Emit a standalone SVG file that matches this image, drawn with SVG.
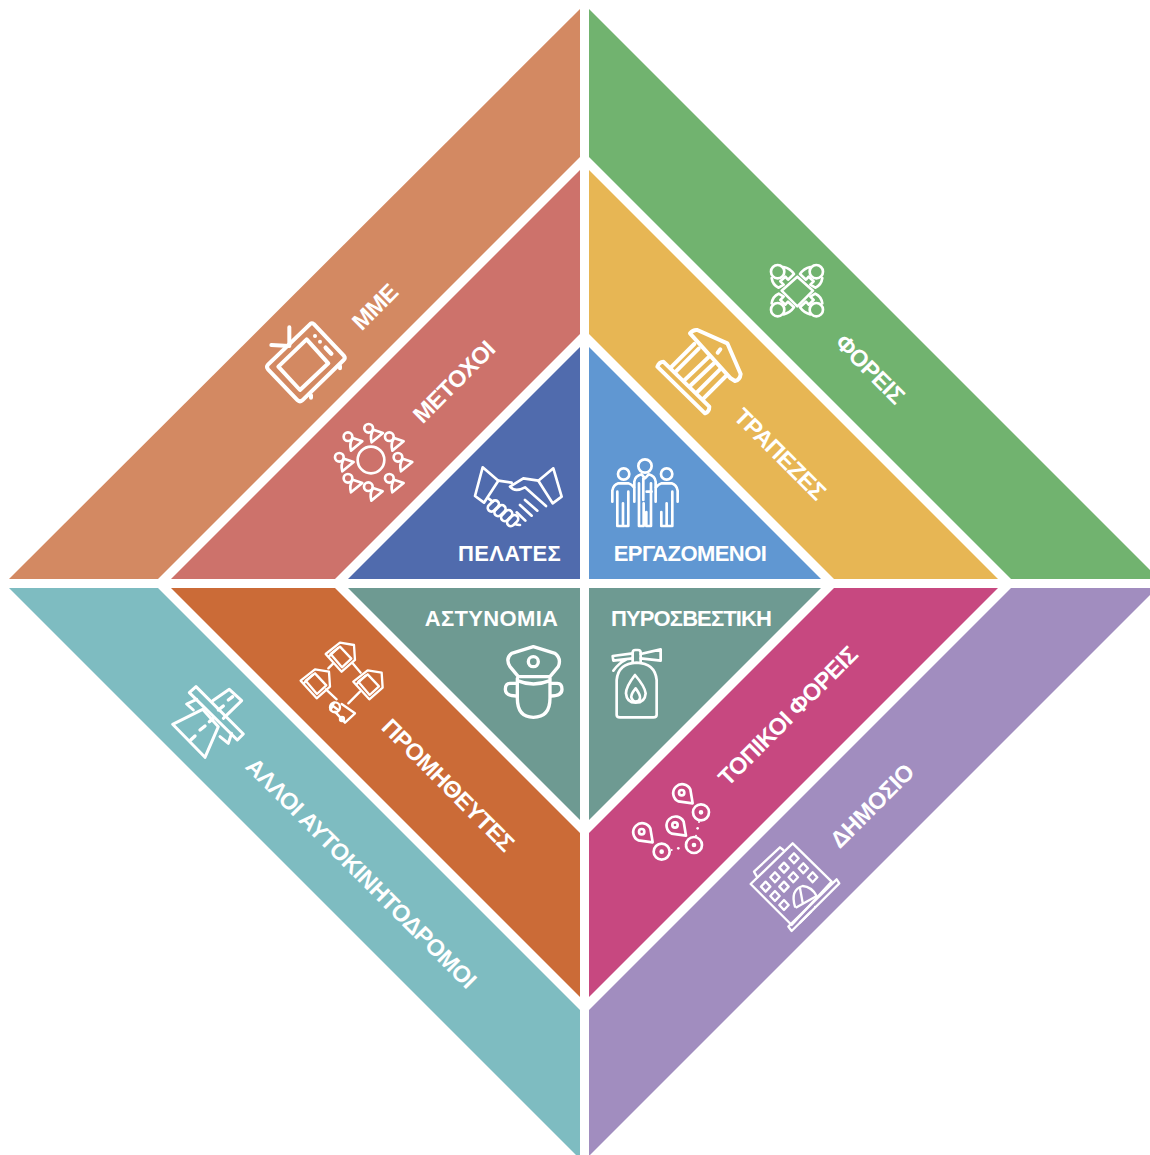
<svg xmlns="http://www.w3.org/2000/svg" width="1150" height="1155" viewBox="0 0 1150 1155">
<style>
text{font-family:"Liberation Sans",Arial,sans-serif;font-size:22px;font-weight:700;fill:#fff;text-anchor:middle;letter-spacing:-.55px}
text.r{font-size:23.500px;letter-spacing:-.5px}
.i{fill:none;stroke:#fff;stroke-linejoin:round;stroke-linecap:round}
.f{fill:#fff;stroke:none}
</style>
<defs>
<g id="person"><circle cx="0" cy="0" r="13"/><path d="M14 4L43 14L9 42Q3 22 14 4Z"/></g>
<g id="seat"><circle cx="-58" cy="-57" r="20"/><path d="M-40-71Q-21-67-9-50L-27-33L-35-42L-50-28L-40-18L-55-9Q-73-17-76-38"/></g>
<g id="house"><path d="M497 72L540 38L582 45L585 90L545 125Z"/><path d="M512 72L540 50L574 86L546 112Z"/><path d="M506 80L534 54"/></g>
<g id="pin"><path d="M33 32L-10 26A27 27 0 1 1 26-10Z"/><circle r="8"/></g>
<g id="ring"><circle r="24"/><circle r="3" fill="#fff"/></g>
<rect id="finger" x="-19" y="-11" width="38" height="22" rx="11"/>
</defs>
<rect width="1150" height="1155" fill="#fff"/>
<g id="mme"><polygon points="580,9 580,157 158,579 9,579" fill="#D38962"/>
<text class="r" transform="translate(375,307) rotate(-45)" y="8">ΜΜΕ</text>
<g class="i" stroke-width="12" transform="translate(250,260) scale(.3333)">
<path d="M182 191Q186 188 191 192L282 288Q287 295 281 300L157 421Q150 427 143 421L54 328Q48 320 54 314Z"/><path d="M170 238L235 310L150 390L85 320Z"/><path d="M118 202L118 258L64 255"/><path d="M227 263L244 281" stroke-width="13"/><circle class="f" cx="195" cy="228" r="6"/><circle class="f" cx="210" cy="245" r="6"/><path d="M270 318L270 325M183 406L183 413"/></g></g>
<g id="foreis"><polygon points="589,9 1150,570 1150,579 1011,579 589,157" fill="#71B36F"/>
<text class="r" transform="translate(870,369) rotate(45)" y="8">ΦΟΡΕΙΣ</text>
<g class="i" stroke-width="8" transform="translate(640,250) scale(.3333)">
<path d="M472 80L519 122L472 169L425 122Z"/>
<g transform="translate(471,122)"><use href="#seat"/><use href="#seat" transform="scale(-1,1)"/><use href="#seat" transform="scale(1,-1)"/><use href="#seat" transform="scale(-1,-1)"/></g></g></g>
<g id="metochoi"><polygon points="580,170 580,334 335,579 171,579" fill="#CD726B"/>
<text class="r" transform="translate(454,382) rotate(-45)" y="8">ΜΕΤΟΧΟΙ</text>
<g class="i" stroke-width="8" transform="translate(250,260) scale(.3333)">
<circle cx="363" cy="600" r="40"/>
<use href="#person" x="356" y="505"/><use href="#person" x="294" y="530"/><use href="#person" x="418" y="530"/><use href="#person" x="268" y="592"/><use href="#person" x="444" y="592"/><use href="#person" x="294" y="655"/><use href="#person" x="418" y="655"/><use href="#person" x="355" y="680"/></g></g>
<g id="trapezes"><polygon points="589,170 589,334 834,579 998,579" fill="#E7B654"/>
<text class="r" transform="translate(780,454) rotate(45)" y="8">ΤΡΑΠΕΖΕΣ</text>
<g class="i" stroke-width="12" transform="translate(640,250) scale(.3333)">
<path d="M150 250Q160 238 172 240L262 280L302 372Q300 390 285 393L272 385Z"/><path d="M52 350Q58 335 70 335L208 470Q208 485 195 490Z"/><path d="M95 350L163 282M108 364L176 296M132 392L205 322M150 408L222 340M170 428L240 358M188 448L258 378"/><path d="M233 308L241 298"/></g></g>
<g id="pelates"><polygon points="580,347 580,579 348,579" fill="#506BAD"/>
<text x="509.500" y="561" style="letter-spacing:.35px">ΠΕΛΑΤΕΣ</text>
<g class="i" stroke-width="8" transform="translate(460,450) scale(.3333)">
<path d="M68 52L115 92L72 158L45 138ZM280 55L235 92L278 160L305 140Z"/><path d="M115 92L155 98M235 92L190 85L150 110Q165 128 195 112L258 168M85 145L98 155M232 182L195 150M215 197L180 165M196 212L170 187M180 225Q172 225 165 222"/>
<use href="#finger" transform="translate(100,168) rotate(-45)"/><use href="#finger" transform="translate(120,182) rotate(-45)"/><use href="#finger" transform="translate(140,197) rotate(-45)"/><use href="#finger" transform="translate(158,212) rotate(-45)"/></g></g>
<g id="ergazomenoi"><polygon points="589,347 589,579 821,579" fill="#6097D2"/>
<text x="690" y="561">ΕΡΓΑΖΟΜΕΝΟΙ</text>
<g class="i" stroke-width="8" transform="translate(460,450) scale(.3333)">
<circle cx="555" cy="48" r="20"/><circle cx="491" cy="72" r="17"/><circle cx="620" cy="72" r="17"/>
<path d="M523 155V95Q525 78 545 73L555 85L566 73Q585 78 587 95V155M537 100V228H551V160M573 100V228H559V186M550 85V150M575 125H560"/>
<path d="M457 155V122Q460 105 475 100H505Q515 103 522 112M472 125V228H489V160M505 125V228H489"/>
<path d="M653 155V122Q650 105 635 100H605Q595 103 588 112M637 125V228H620V160M604 186V228H620"/></g></g>
<g id="allo"><polygon points="9,588 158,588 580,1010 580,1155 576,1155" fill="#7EBCC1"/>
<text class="r" transform="translate(361,873) rotate(45)" y="8">ΑΛΛΟΙ ΑΥΤΟΚΙΝΗΤΟΔΡΟΜΟΙ</text>
<g class="i" stroke-width="9" transform="translate(160,630) scale(.3333)">
<path d="M108 170L250 312L232 330L88 188Z"/><path d="M38 283L128 238L175 290L135 382Z"/><path d="M158 212L208 178L245 212L190 265"/><path d="M110 208L80 222L100 240M180 320L205 340L215 310"/><path d="M120 300L135 288M148 275L160 265M92 330L105 318M175 240L190 228M205 210L218 200" stroke-width="10"/></g></g>
<g id="promitheutes"><polygon points="171,588 335,588 580,833 580,997" fill="#CB6B37"/>
<text class="r" transform="translate(448,785) rotate(45)" y="8">ΠΡΟΜΗΘΕΥΤΕΣ</text>
<g class="i" stroke-width="7" transform="translate(160,630) scale(.3333)">
<use href="#house"/><use href="#house" x="-75" y="80"/><use href="#house" x="83" y="83"/>
<path d="M505 115L520 100M578 100L602 128M498 178L530 208M565 220L600 185"/>
<path d="M545 222L585 250L555 278L525 245"/><circle cx="525" cy="232" r="15"/><path d="M515 225L535 240M522 218L512 240"/><circle cx="546" cy="267" r="6"/></g></g>
<g id="astynomia"><polygon points="348,588 580,588 580,820" fill="#6E9A92"/>
<text x="491.500" y="626" style="letter-spacing:.35px">ΑΣΤΥΝΟΜΙΑ</text>
<g class="i" stroke-width="10" transform="translate(490,630) scale(.3333)">
<path d="M130 50L195 70Q215 85 205 110L180 140H85L60 110Q45 85 65 70Z"/><circle cx="130" cy="95" r="15"/>
<path d="M82 145V205Q82 262 130 262Q180 262 180 205V145M82 152Q130 172 180 152"/>
<path d="M80 160H60Q46 160 46 178Q46 198 78 198M182 160H202Q216 160 216 178Q216 198 184 198"/></g></g>
<g id="pyrosvestiki"><polygon points="589,588 821,588 589,820" fill="#6E9A92"/>
<text x="691" y="626" style="letter-spacing:-.9px">ΠΥΡΟΣΒΕΣΤΙΚΗ</text>
<g class="i" stroke-width="8" transform="translate(490,630) scale(.3333)">
<path d="M380 255V150Q385 100 440 98Q495 100 500 150V255Q500 262 490 262H390Q380 262 380 255Z"/><path d="M428 98V68Q428 60 436 60H444Q452 60 452 68V98"/><path d="M452 72L512 58V92L452 85M428 70L368 78L370 92L428 85M370 122Q385 100 410 88"/>
<path d="M435 135Q408 170 408 190Q410 218 437 218Q465 218 467 190Q465 170 435 135Z"/><path d="M437 175Q420 195 425 205Q430 215 437 215Q448 215 450 205Q452 195 437 175Z"/></g></g>
<g id="topikoi"><polygon points="834,588 998,588 589,997 589,833" fill="#C74880"/>
<text class="r" transform="translate(788,716) rotate(-45)" y="8">ΤΟΠΙΚΟΙ ΦΟΡΕΙΣ</text>
<g class="i" stroke-width="8" transform="translate(620,770) scale(.3333)">
<use href="#pin" x="185" y="68"/><use href="#pin" x="165" y="165"/><use href="#pin" x="65" y="185"/>
<use href="#ring" x="243" y="127"/><use href="#ring" x="222" y="225"/><use href="#ring" x="125" y="245"/>
<circle class="f" cx="233" cy="175" r="4"/><circle class="f" cx="175" cy="235" r="4"/><circle class="f" cx="237" cy="156" r="3"/><circle class="f" cx="155" cy="240" r="3"/><circle class="f" cx="228" cy="197" r="3"/><circle class="f" cx="197" cy="230" r="3"/></g></g>
<g id="dimosio"><polygon points="1011,588 1150,588 1150,595 590,1155 589,1155 589,1010" fill="#A18DBF"/>
<text class="r" transform="translate(872,806) rotate(-45)" y="8">ΔΗΜΟΣΙΟ</text>
<g class="i" stroke-width="7" transform="translate(620,770) scale(.3333)">
<path d="M518 220L635 335L515 465L392 342Z"/><path d="M412 322L402 305L480 232L490 240"/><path d="M505 470L650 328L658 340L515 483Z"/>
<path d="M522 250L536 265L522 280L508 265ZM492 278L506 293L492 308L478 293ZM465 307L479 322L465 337L451 322ZM437 335L451 350L437 365L423 350ZM550 280L564 295L550 310L536 295ZM520 307L534 322L520 337L506 322ZM492 335L506 350L492 365L478 350ZM465 363L479 378L465 393L451 378ZM578 307L592 322L578 337L564 322ZM492 390L506 405L492 420L478 405Z"/>
<path d="M525 410Q510 360 548 348Q575 350 590 378L530 412M540 355L548 398"/><circle class="f" cx="585" cy="410" r="3"/><path d="M573 425L540 458"/></g></g>
</svg>
